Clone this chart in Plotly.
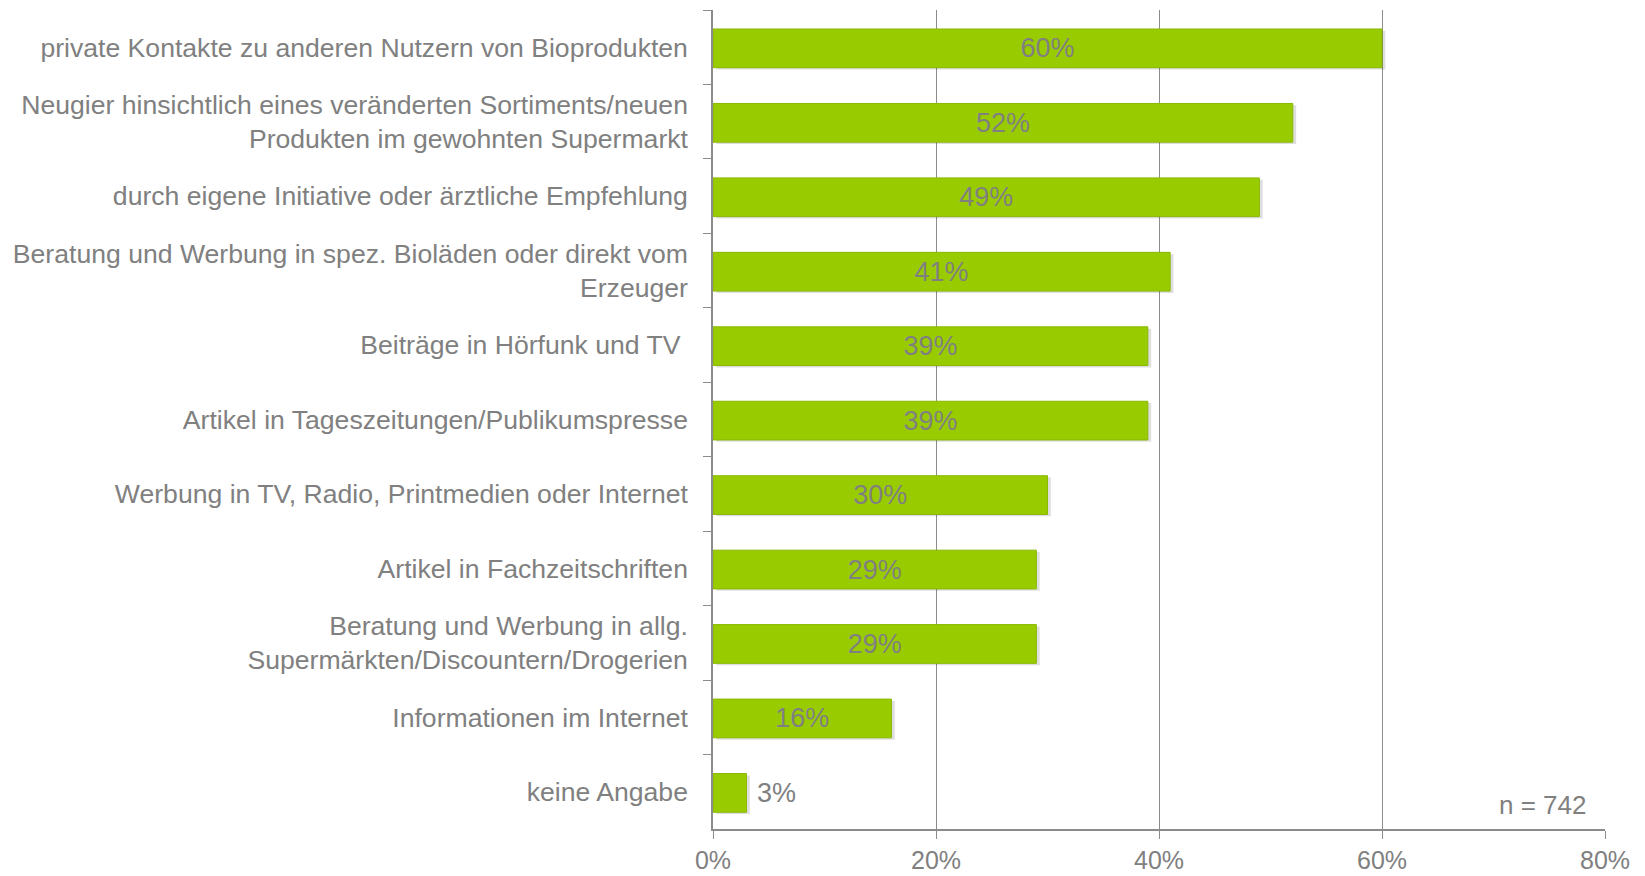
import plotly.graph_objects as go

# Anteil der Befragten je Informationsquelle (n = 742)
labels = [
    "private Kontakte zu anderen Nutzern von Bioprodukten",
    "Neugier hinsichtlich eines veränderten Sortiments/neuen<br>Produkten im gewohnten Supermarkt",
    "durch eigene Initiative oder ärztliche Empfehlung",
    "Beratung und Werbung in spez. Bioläden oder direkt vom<br>Erzeuger",
    "Beiträge in Hörfunk und TV ",
    "Artikel in Tageszeitungen/Publikumspresse",
    "Werbung in TV, Radio, Printmedien oder Internet",
    "Artikel in Fachzeitschriften",
    "Beratung und Werbung in allg.<br>Supermärkten/Discountern/Drogerien",
    "Informationen im Internet",
    "keine Angabe",
]
values = [60, 52, 49, 41, 39, 39, 30, 29, 29, 16, 3]
x_ticks = [0, 20, 40, 60, 80]

GREY = "#808080"
FONT = "Liberation Sans, Arial, sans-serif"
BAR_W = 0.52

positions = ["inside" if v >= 10 else "outside" for v in values]
texts = [f"{v}%" if v >= 10 else f"\u00a0{v}%" for v in values]

fig = go.Figure()
# weicher Schatten unter den Balken
fig.add_trace(go.Bar(
    x=values, y=labels, orientation="h", base=0.3,
    width=BAR_W, offset=-BAR_W / 2 + 0.04,
    marker=dict(color="rgba(0,0,0,0.13)", line=dict(width=0)),
    hoverinfo="skip",
))
fig.add_trace(go.Bar(
    x=values,
    y=labels,
    orientation="h",
    width=BAR_W, offset=-BAR_W / 2 + 0.015,
    marker=dict(color="#99CC00", line=dict(color="#8AB800", width=1)),
    text=texts,
    textposition=positions,
    insidetextanchor="middle",
    textfont=dict(family=FONT, size=27, color=GREY),
    cliponaxis=False,
))

fig.add_annotation(
    text="n = 742", x=0.981, y=0.029, xref="paper", yref="paper",
    xanchor="right", yanchor="middle", showarrow=False,
    font=dict(family=FONT, size=26, color=GREY),
)

fig.update_layout(
    width=1637, height=868,
    margin=dict(l=705, r=40, t=2, b=44),
    plot_bgcolor="white", paper_bgcolor="white",
    barmode="overlay",
    showlegend=False,
    font=dict(family=FONT, size=26, color=GREY),
    uniformtext=dict(minsize=20, mode="show"),
)
fig.update_xaxes(
    range=[0, 80], tickvals=x_ticks, ticktext=[f"{t}%" for t in x_ticks],
    tickfont=dict(size=25),
    showgrid=True, gridcolor="#8C8C8C", gridwidth=1,
    showline=True, linecolor="#8C8C8C", linewidth=1.5,
    ticks="outside", ticklen=8, tickcolor="#8C8C8C",
    zeroline=False, fixedrange=True,
)
fig.update_yaxes(
    autorange="reversed", type="category",
    tickfont=dict(size=26.6),
    showline=True, linecolor="#8C8C8C", linewidth=1.5,
    ticks="outside", tickson="boundaries", ticklen=8, tickcolor="#8C8C8C",
    ticklabelstandoff=18,
    showgrid=False,
)

fig.write_html("out.html")
